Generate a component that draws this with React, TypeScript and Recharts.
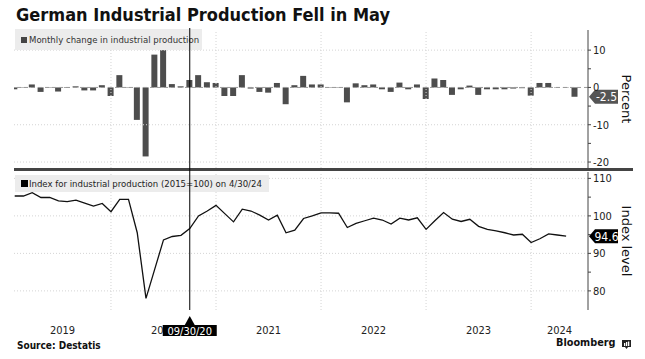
import React from "react";
import { ComposedChart, Bar, Line, XAxis, YAxis, ReferenceLine } from "recharts";

// monthly, Jan 2019 onwards
const YEARS = ["2019", "2020", "2021", "2022", "2023", "2024"];

// % change month on month, Jan 2019 - May 2024
const MONTHLY_CHANGE = [
  -0.5, 0.1, 0.8, -1.2, 0.1, -1.1, 0.1, 0.3, -0.8, -0.8, 0.6, -2.3,
  3.3, -0.1, -8.7, -18.5, 8.8, 10.0, 0.9, 0.3, 2.0, 3.3, 1.4, 1.2,
  -2.3, -2.3, 3.3, -0.3, -1.2, -1.4, 1.2, -4.5, 0.6, 3.1, 0.8, 0.8,
  0.1, -0.1, -4.0, 1.1, 0.6, 0.8, -0.5, -1.2, 1.3, -0.5, 0.8, -3.1,
  2.4, 2.0, -2.0, -0.5, 0.5, -2.0, -0.5, -0.5, -0.5, -0.3, -0.2, -2.2,
  1.2, 1.2, -0.1, 0.1, -2.5,
];

// index level (2015=100), Jan 2019 - Apr 2024
const INDEX_LEVEL = [
  105.3, 105.3, 106.2, 104.9, 104.9, 104.0, 103.8, 104.2, 103.4, 102.6, 103.3, 101.1,
  104.4, 104.4, 95.5, 78.0, 85.8, 93.6, 94.5, 94.8, 96.6, 100.0, 101.3, 102.8,
  100.6, 98.4, 101.8, 101.3, 100.2, 98.9, 100.2, 95.5, 96.2, 99.3, 100.0, 100.8,
  100.8, 100.7, 96.9, 98.0, 98.7, 99.4, 98.9, 97.8, 99.4, 98.9, 99.5, 96.4,
  98.7, 100.9, 99.1, 98.5, 99.1, 97.2, 96.4, 96.0, 95.5, 94.9, 95.1, 92.9,
  93.9, 95.2, 94.9, 94.6,
];

const CHANGE_TICKS = [-20, -15, -10, -5, 0, 5, 10];
const CHANGE_GRID = [-20, -10, 10];
const INDEX_TICKS = [80, 85, 90, 95, 100, 105, 110];
const INDEX_GRID = [80, 90, 100, 110];

const CROSSHAIR_MONTH = 20;
const CROSSHAIR_LABEL = "09/30/20";

const X_DOMAIN: [number, number] = [-0.08, 65.5];
const FONT = '"DejaVu Sans Condensed", "Liberation Sans Narrow", "DejaVu Sans", sans-serif';
const WIDE_FONT = '"DejaVu Sans", Verdana, sans-serif';

const rows = MONTHLY_CHANGE.map((change, m) => ({
  m,
  change,
  index: m < INDEX_LEVEL.length ? INDEX_LEVEL[m] : null,
}));

// month-end index of Dec 31 before each year
const yearStart = (i: number) => i * 12 - 1;
const yearBoundaries = YEARS.slice(1).map((_, i) => yearStart(i + 1));
const yearTicks = YEARS.map((_, i) => {
  const a = Math.max(yearStart(i), X_DOMAIN[0]);
  const b = Math.min(yearStart(i) + 12, X_DOMAIN[1]);
  return (a + b) / 2;
});

const gridStyle = { stroke: "#d4d4d4", strokeDasharray: "1 2" };

const RightTick = (props: any) => {
  const { x, y, payload } = props;
  if (payload.value % 10 !== 0) return null;
  return (
    <text x={x} y={y} dy={4} fontSize={11} fill="#222" fontFamily={FONT} textAnchor="start">
      {String(payload.value)}
    </text>
  );
};

const AxisTitle = (props: any) => {
  const { viewBox, text } = props;
  const x = viewBox.x + viewBox.width - 6;
  const y = viewBox.y + viewBox.height / 2;
  return (
    <text x={x} y={y} transform={`rotate(90 ${x} ${y})`} textAnchor="middle" fontSize={13} fill="#111" fontFamily={WIDE_FONT}>
      {text}
    </text>
  );
};

const ValueTag = (props: any) => {
  const { viewBox, text, fill } = props;
  const x = viewBox.x + viewBox.width + 1;
  const y = viewBox.y;
  return (
    <g>
      <path d={`M${x} ${y} L${x + 6} ${y - 7} H${x + 29} V${y + 7} H${x + 6} Z`} fill={fill} />
      <text x={x + 17.5} y={y + 4.5} textAnchor="middle" fill="#fff" fontSize={12} fontFamily={FONT}>
        {text}
      </text>
    </g>
  );
};

const CrosshairTag = (props: any) => {
  const { viewBox } = props;
  const x = viewBox.x;
  const b = viewBox.y + viewBox.height;
  return (
    <g>
      <path d={`M${x} ${b + 6} L${x + 5} ${b + 15} H${x - 5} Z`} fill="#000" />
      <rect x={x - 27} y={b + 15} width={54} height={11} fill="#000" />
      <text x={x} y={b + 24.5} textAnchor="middle" fill="#fff" fontSize={11} fontFamily={FONT}>
        {CROSSHAIR_LABEL}
      </text>
    </g>
  );
};

const lastChange = MONTHLY_CHANGE[MONTHLY_CHANGE.length - 1];
const lastIndex = INDEX_LEVEL[INDEX_LEVEL.length - 1];

export default function App() {
  return (
    <div style={{ position: "absolute", left: 0, top: 0, width: 645, height: 359, background: "#fff", fontFamily: FONT, overflow: "hidden" }}>
      <div style={{ position: "absolute", left: 16, top: 6, fontSize: 18, lineHeight: "18px", fontWeight: 700, color: "#111", whiteSpace: "nowrap" }}>
        German Industrial Production Fell in May
      </div>

      {/* monthly change panel */}
      <div style={{ position: "absolute", left: 0, top: 0 }}>
        <ComposedChart width={645} height={172} data={rows} margin={{ top: 30, right: 17, bottom: 4, left: 14 }}>
          <XAxis dataKey="m" type="number" domain={X_DOMAIN} allowDataOverflow hide />
          <YAxis
            orientation="right"
            width={40}
            domain={[-21.6, 15.4]}
            allowDataOverflow
            ticks={CHANGE_TICKS}
            interval={0}
            tick={<RightTick />}
            tickSize={3}
            tickMargin={2}
            axisLine={{ stroke: "#444" }}
            tickLine={{ stroke: "#444" }}
            label={{ content: (p: any) => <AxisTitle {...p} text="Percent" /> }}
          />
          {CHANGE_GRID.map((v) => (
            <ReferenceLine key={"h" + v} y={v} {...gridStyle} />
          ))}
          {yearBoundaries.map((v) => (
            <ReferenceLine key={"v" + v} x={v} {...gridStyle} />
          ))}
          <ReferenceLine y={0} stroke="#9a9a9a" strokeDasharray="4 3" />
          <Bar dataKey="change" fill="#4d4d4d" barSize={6} isAnimationActive={false} />
          <ReferenceLine
            y={lastChange}
            stroke="none"
            label={{ content: (p: any) => <ValueTag {...p} text={lastChange.toFixed(1)} fill="#555" /> }}
          />
        </ComposedChart>
      </div>

      {/* index level panel */}
      <div style={{ position: "absolute", left: 0, top: 170 }}>
        <ComposedChart width={645} height={189} data={rows} margin={{ top: 2, right: 17, bottom: 19, left: 14 }}>
          <XAxis
            dataKey="m"
            type="number"
            domain={X_DOMAIN}
            allowDataOverflow
            ticks={yearTicks}
            interval={0}
            tickFormatter={(_v: number, i: number) => YEARS[i]}
            axisLine={false}
            tickLine={false}
            tickSize={0}
            tickMargin={16}
            height={30}
            tick={{ fontSize: 11, fill: "#222", fontFamily: FONT }}
          />
          <YAxis
            orientation="right"
            width={40}
            domain={[74.9, 111.7]}
            allowDataOverflow
            ticks={INDEX_TICKS}
            interval={0}
            tick={<RightTick />}
            tickSize={3}
            tickMargin={2}
            axisLine={{ stroke: "#444" }}
            tickLine={{ stroke: "#444" }}
            label={{ content: (p: any) => <AxisTitle {...p} text="Index level" /> }}
          />
          {INDEX_GRID.map((v) => (
            <ReferenceLine key={"h" + v} y={v} {...gridStyle} />
          ))}
          {yearBoundaries.map((v) => (
            <ReferenceLine key={"v" + v} x={v} {...gridStyle} />
          ))}
          <Line dataKey="index" stroke="#111" strokeWidth={1.3} dot={false} connectNulls={false} isAnimationActive={false} />
          <ReferenceLine
            y={lastIndex}
            stroke="none"
            label={{ content: (p: any) => <ValueTag {...p} text={lastIndex.toFixed(1)} fill="#000" /> }}
          />
        </ComposedChart>
      </div>

      {/* separator */}
      <div style={{ position: "absolute", left: 14, top: 168, width: 619, height: 3, background: "#444" }} />

      {/* legends */}
      <div style={{ position: "absolute", left: 15, top: 29, width: 187, height: 21, background: "#ececec" }}>
        <div style={{ position: "absolute", left: 6, top: 8, width: 6, height: 6, background: "#444" }} />
        <div style={{ position: "absolute", left: 14, top: 5, fontSize: 9.5, lineHeight: "11px", color: "#333", whiteSpace: "nowrap" }}>
          Monthly change in industrial production
        </div>
      </div>
      <div style={{ position: "absolute", left: 15, top: 175, width: 254, height: 17, background: "#ececec" }}>
        <div style={{ position: "absolute", left: 6, top: 5, width: 7, height: 7, background: "#000" }} />
        <div style={{ position: "absolute", left: 14, top: 3, fontSize: 9.5, lineHeight: "11px", color: "#222", whiteSpace: "nowrap" }}>
          Index for industrial production (2015=100) on 4/30/24
        </div>
      </div>

      {/* crosshair across both panels, on top of the legends */}
      <div style={{ position: "absolute", left: 0, top: 0 }}>
        <ComposedChart width={645} height={359} data={rows} margin={{ top: 28, right: 57, bottom: 49, left: 14 }}>
          <XAxis dataKey="m" type="number" domain={X_DOMAIN} allowDataOverflow hide />
          <YAxis hide domain={[74.9, 111.7]} allowDataOverflow />
          <Line dataKey="index" stroke="transparent" dot={false} activeDot={false} isAnimationActive={false} />
          <ReferenceLine
            x={CROSSHAIR_MONTH}
            stroke="#000"
            strokeWidth={1}
            ifOverflow="visible"
            label={{ content: (p: any) => <CrosshairTag {...p} /> }}
          />
        </ComposedChart>
      </div>

      <div style={{ position: "absolute", left: 17, top: 340, fontSize: 10, lineHeight: "11px", fontWeight: 700, color: "#111" }}>
        Source: Destatis
      </div>
      <div style={{ position: "absolute", left: 556, top: 336, fontSize: 10.8, lineHeight: "14px", fontWeight: 700, color: "#111", fontFamily: FONT }}>
        Bloomberg
      </div>
      <svg style={{ position: "absolute", left: 621, top: 339 }} width={11} height={11}>
        <path d="M1 1 H10 V8 H7 L5.5 10 L4 8 H1 Z" fill="#222" />
        <rect x={3} y={4} width={1.3} height={3} fill="#fff" />
        <rect x={5} y={3} width={1.3} height={4} fill="#fff" />
        <rect x={7} y={2.5} width={1.3} height={4.5} fill="#fff" />
      </svg>
    </div>
  );
}
